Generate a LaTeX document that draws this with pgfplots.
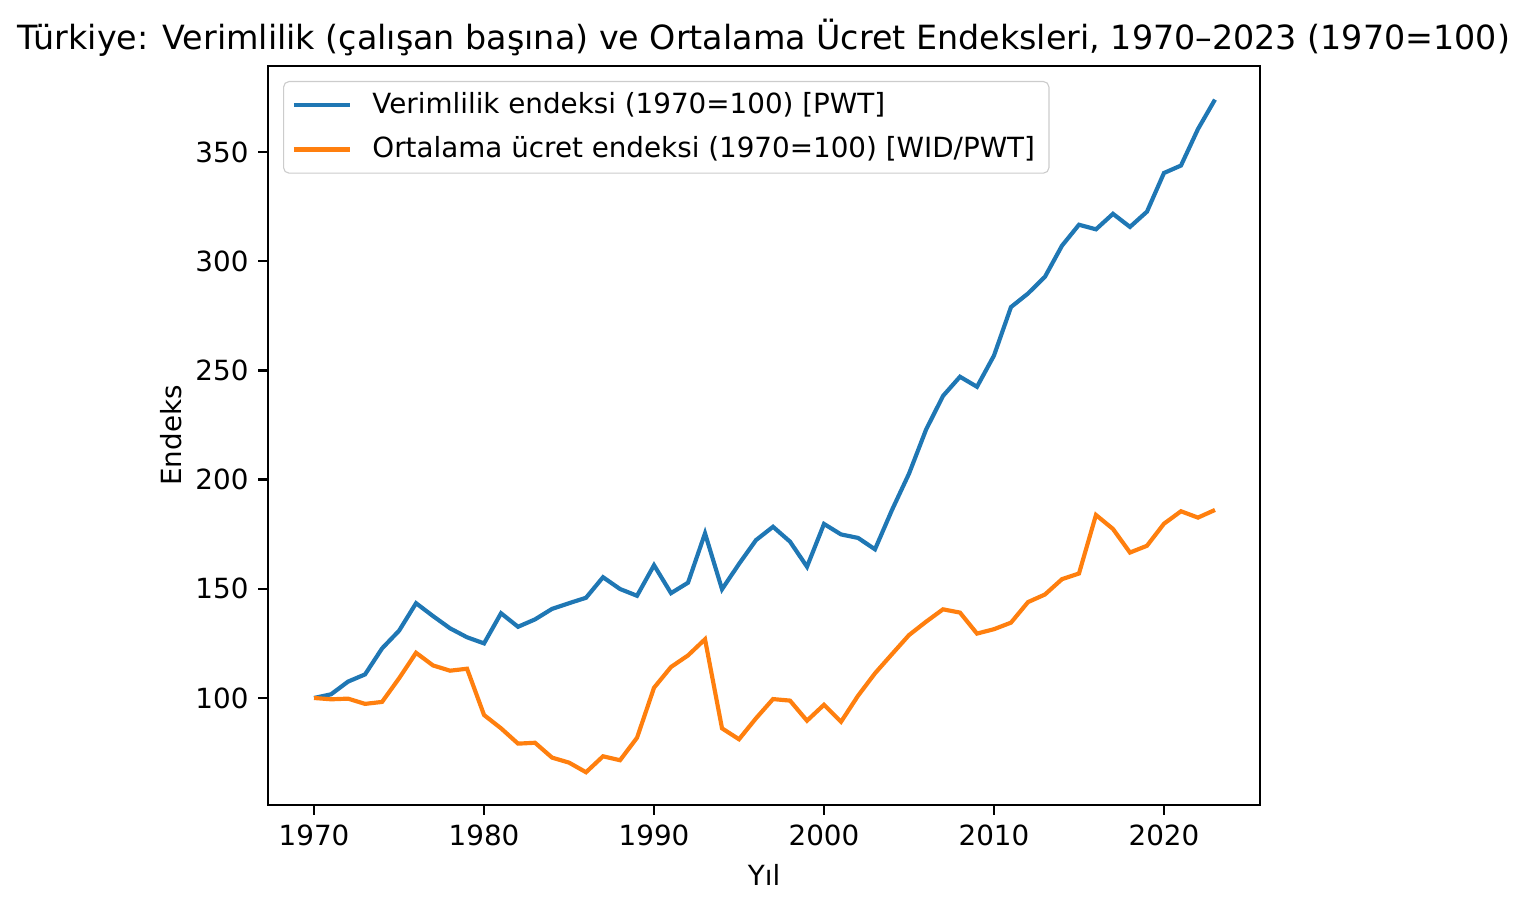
\documentclass[border=0pt]{standalone}
\usepackage{pgfplots}
\pgfplotsset{compat=1.18}
\usepackage{fontspec}
\setmainfont{DejaVu Sans}
\definecolor{tabblue}{HTML}{1F77B4}
\definecolor{taborange}{HTML}{FF7F0E}
\begin{document}
\begin{tikzpicture}[font=\fontsize{10}{12}\selectfont]
\path[use as bounding box] (0,0) rectangle (550.44pt,328.68pt);
\begin{axis}[
  at={(96.48pt,38.88pt)}, anchor=south west,
  scale only axis, width=357.12pt, height=266.04pt,
  xmin=1967.29, xmax=2025.65, ymin=51.0, ymax=389.4,
  xtick={1970,1980,1990,2000,2010,2020},
  ytick={100,150,200,250,300,350},
  xtick pos=bottom, ytick pos=left,
  tick align=outside, major tick length=3.5pt,
  tick style={black, line width=0.8pt},
  axis line style={line width=0.8pt},
  /pgf/number format/1000 sep={},
  /pgf/number format/assume math mode=true,
  ticklabel style={font=\fontsize{10}{12}\selectfont},
  xlabel={Yıl}, ylabel={Endeks},
  label style={font=\fontsize{10}{12}\selectfont},
  ylabel style={yshift=-2pt},
  title={Türkiye: Verimlilik (çalışan başına) ve Ortalama Ücret Endeksleri, 1970–2023 (1970=100)},
  title style={font=\fontsize{12}{14}\selectfont, yshift=-6pt},
  legend cell align=left,
  legend style={at={(0,1)}, anchor=north west, xshift=5.4pt, yshift=-5.4pt,
    draw=black!20, rounded corners=2pt, fill=white, fill opacity=0.8, text opacity=1,
    font=\fontsize{10}{12}\selectfont, inner xsep=3pt, inner ysep=2pt, row sep=2.8pt},
  legend image code/.code={\draw[#1] (0pt,0pt) -- (20pt,0pt); \path (25.5pt,0pt);},
]
\addplot[tabblue, line width=1.5pt] coordinates {
(1970,100) (1971,101.7) (1972,107.5) (1973,110.8) (1974,122.7) (1975,130.8)
(1976,143.4) (1977,137.5) (1978,131.9) (1979,127.8) (1980,125) (1981,138.8)
(1982,132.6) (1983,136) (1984,140.8) (1985,143.4) (1986,145.9) (1987,155.3)
(1988,149.9) (1989,146.8) (1990,160.8) (1991,148) (1992,152.8) (1993,175.4)
(1994,149.8) (1995,161.4) (1996,172.3) (1997,178.4) (1998,171.6) (1999,160.1)
(2000,179.7) (2001,174.9) (2002,173.3) (2003,168.1) (2004,186.1) (2005,202.7)
(2006,222.8) (2007,238.3) (2008,247.1) (2009,242.5) (2010,256.8) (2011,279)
(2012,285.2) (2013,292.9) (2014,307.1) (2015,316.7) (2016,314.6) (2017,321.7)
(2018,315.7) (2019,322.7) (2020,340.4) (2021,343.8) (2022,360.5) (2023,374)
};
\addlegendentry{Verimlilik endeksi (1970=100) [PWT]}
\addplot[taborange, line width=1.5pt] coordinates {
(1970,100) (1971,99.4) (1972,99.7) (1973,97.3) (1974,98.2) (1975,109)
(1976,120.7) (1977,114.9) (1978,112.5) (1979,113.4) (1980,92.2) (1981,86.1)
(1982,79.1) (1983,79.5) (1984,72.7) (1985,70.4) (1986,66) (1987,73.3)
(1988,71.5) (1989,81.8) (1990,104.7) (1991,114.2) (1992,119.5) (1993,126.9)
(1994,86.1) (1995,81.1) (1996,90.7) (1997,99.5) (1998,98.8) (1999,89.6)
(2000,96.9) (2001,89.1) (2002,101) (2003,111.3) (2004,120.1) (2005,128.8)
(2006,134.9) (2007,140.6) (2008,139.1) (2009,129.5) (2010,131.5) (2011,134.5)
(2012,143.9) (2013,147.4) (2014,154.4) (2015,157) (2016,183.8) (2017,177.4)
(2018,166.6) (2019,169.7) (2020,179.8) (2021,185.5) (2022,182.6) (2023,186.1)
};
\addlegendentry{Ortalama ücret endeksi (1970=100) [WID/PWT]}
\end{axis}
\end{tikzpicture}
\end{document}
